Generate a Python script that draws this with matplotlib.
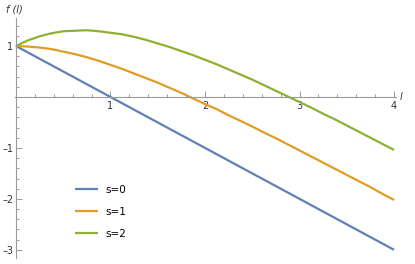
import matplotlib
matplotlib.use("Agg")
import matplotlib.pyplot as plt
from matplotlib.ticker import MultipleLocator, FixedLocator

# Data
l_vals = [0.0, 0.125, 0.25, 0.375, 0.5, 0.625, 0.75, 0.875, 1.0, 1.125, 1.25, 1.375,
          1.5, 1.625, 1.75, 1.875, 2.0, 2.125, 2.25, 2.375, 2.5, 2.625, 2.75, 2.875,
          3.0, 3.125, 3.25, 3.375, 3.5, 3.625, 3.75, 3.875, 4.0]
f_s0 = [1.0, 0.875, 0.75, 0.625, 0.5, 0.375, 0.25, 0.125, 0.0, -0.125, -0.25, -0.375,
        -0.5, -0.625, -0.75, -0.875, -1.0, -1.125, -1.25, -1.375, -1.5, -1.625, -1.75, -1.875,
        -2.0, -2.125, -2.25, -2.375, -2.5, -2.625, -2.75, -2.875, -3.0]
f_s1 = [1.00, 0.99, 0.97, 0.94, 0.89, 0.84, 0.78, 0.71, 0.63, 0.55, 0.46, 0.37,
        0.28, 0.18, 0.08, -0.03, -0.14, -0.24, -0.36, -0.47, -0.58, -0.70, -0.81, -0.93,
        -1.05, -1.17, -1.29, -1.41, -1.53, -1.65, -1.77, -1.90, -2.02]
f_s2 = [1.00, 1.11, 1.19, 1.25, 1.29, 1.30, 1.31, 1.29, 1.26, 1.23, 1.18, 1.12,
        1.05, 0.98, 0.90, 0.82, 0.73, 0.64, 0.54, 0.44, 0.34, 0.23, 0.12, 0.01,
        -0.10, -0.21, -0.33, -0.44, -0.56, -0.68, -0.80, -0.92, -1.04]
series_labels = ["s=0", "s=1", "s=2"]
x_major = [1, 2, 3, 4]
y_major = [-3, -2, -1, 1]

colors = ["#5E81B5", "#E19C24", "#8FB032"]

W, H = 415, 264
fig = plt.figure(figsize=(W / 100, H / 100), dpi=100)
ax = fig.add_axes([15 / W, 1 - 258 / H, (396 - 15) / W, (258 - 18) / H])

for ys, c, lab in zip([f_s0, f_s1, f_s2], colors, series_labels):
    ax.plot(l_vals, ys, color=c, lw=1.6, label=lab, solid_capstyle="butt",
            solid_joinstyle="round")

ax.set_xlim(-0.01, 4.02)
ax.set_ylim(-3.16, 1.55)

for side in ["top", "right"]:
    ax.spines[side].set_visible(False)
ax.spines["left"].set_position(("data", 0))
ax.spines["bottom"].set_position(("data", 0))
axis_col = "#9a9a9a"
for side in ["left", "bottom"]:
    ax.spines[side].set_color(axis_col)
    ax.spines[side].set_linewidth(0.8)

ax.xaxis.set_major_locator(FixedLocator(x_major))
ax.yaxis.set_major_locator(FixedLocator(y_major))
ax.xaxis.set_minor_locator(MultipleLocator(0.2))
ax.yaxis.set_minor_locator(MultipleLocator(0.2))
ax.tick_params(which="both", direction="in", color=axis_col, width=0.7,
               labelsize=7, labelcolor="#333333")
ax.tick_params(which="major", length=4)
ax.tick_params(which="minor", length=2)
ax.tick_params(axis="x", pad=3)
ax.tick_params(axis="y", pad=2)

ax.set_xticklabels([str(v) for v in x_major])
ax.set_yticklabels([str(v).replace("-", "\u2013") for v in y_major])

fig.text(6 / W, 1 - 9 / H, "f (l)", fontsize=7, style="italic", color="#333333",
         va="center", ha="left")
fig.text(400 / W, 1 - 97 / H, "l", fontsize=7, style="italic", color="#333333",
         va="center", ha="left")

ax.legend(loc="upper left", bbox_to_anchor=(75 / W, 1 - 185 / H),
          bbox_transform=fig.transFigure, frameon=False, fontsize=7.5,
          handlelength=2.2, handletextpad=0.7, labelspacing=1.15,
          borderpad=0, borderaxespad=0)

fig.savefig("out.png", dpi=100)
